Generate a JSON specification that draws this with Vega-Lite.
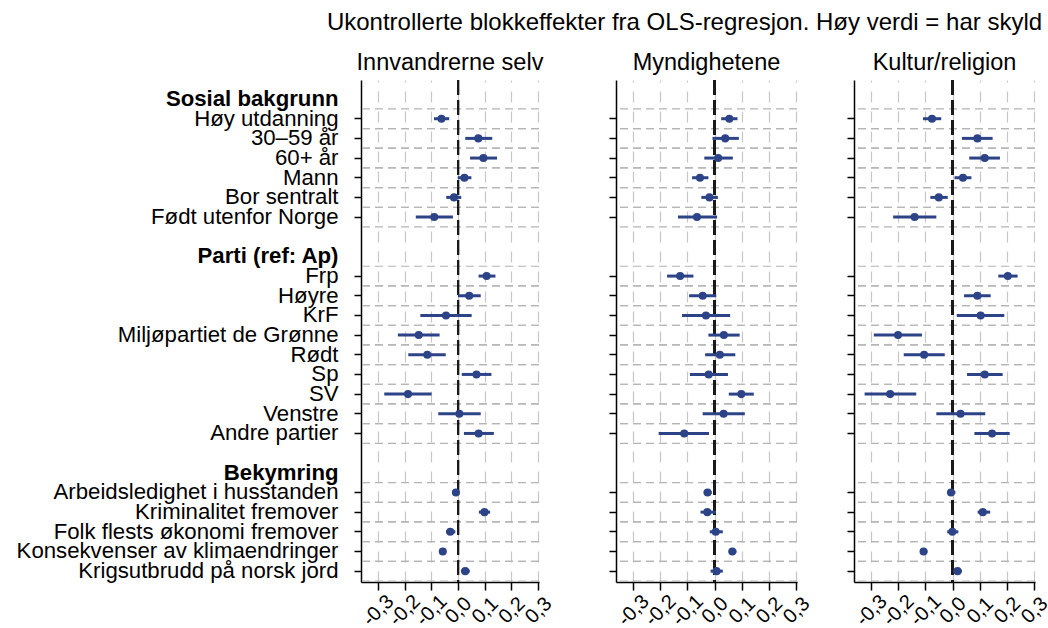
{
  "$schema": "https://vega.github.io/schema/vega-lite/v6.json",
  "padding": {"left": 16, "top": 10, "right": 5, "bottom": 5},
  "background": "white",
  "title": {"text": "Ukontrollerte blokkeffekter fra OLS-regresjon. Høy verdi = har skyld", "anchor": "end", "dx": -9, "fontSize": 24, "fontWeight": "normal", "font": "Liberation Sans", "color": "#000", "offset": 16},
  "config": {
    "view": {"stroke": null},
    "font": "Liberation Sans",
    "title": {"font": "Liberation Sans", "fontWeight": "normal", "color": "#000"}
  },
  "data": {"values": [
    {"panel": "I", "label": "Høy utdanning", "est": -0.062, "lo": -0.090, "hi": -0.033},
    {"panel": "I", "label": "30–59 år", "est": 0.076, "lo": 0.027, "hi": 0.128},
    {"panel": "I", "label": "60+ år", "est": 0.095, "lo": 0.045, "hi": 0.146},
    {"panel": "I", "label": "Mann", "est": 0.024, "lo": -0.001, "hi": 0.050},
    {"panel": "I", "label": "Bor sentralt", "est": -0.015, "lo": -0.044, "hi": 0.012},
    {"panel": "I", "label": "Født utenfor Norge", "est": -0.089, "lo": -0.158, "hi": -0.019},
    {"panel": "I", "label": "Frp", "est": 0.107, "lo": 0.077, "hi": 0.140},
    {"panel": "I", "label": "Høyre", "est": 0.042, "lo": 0.000, "hi": 0.085},
    {"panel": "I", "label": "KrF", "est": -0.045, "lo": -0.141, "hi": 0.051},
    {"panel": "I", "label": "Miljøpartiet de Grønne", "est": -0.147, "lo": -0.225, "hi": -0.069},
    {"panel": "I", "label": "Rødt", "est": -0.115, "lo": -0.186, "hi": -0.046},
    {"panel": "I", "label": "Sp", "est": 0.069, "lo": 0.014, "hi": 0.125},
    {"panel": "I", "label": "SV", "est": -0.187, "lo": -0.276, "hi": -0.099},
    {"panel": "I", "label": "Venstre", "est": 0.005, "lo": -0.074, "hi": 0.085},
    {"panel": "I", "label": "Andre partier", "est": 0.077, "lo": 0.022, "hi": 0.134},
    {"panel": "I", "label": "Arbeidsledighet i husstanden", "est": -0.008, "lo": -0.020, "hi": 0.004},
    {"panel": "I", "label": "Kriminalitet fremover", "est": 0.099, "lo": 0.078, "hi": 0.120},
    {"panel": "I", "label": "Folk flests økonomi fremover", "est": -0.029, "lo": -0.045, "hi": -0.010},
    {"panel": "I", "label": "Konsekvenser av klimaendringer", "est": -0.057, "lo": -0.068, "hi": -0.046},
    {"panel": "I", "label": "Krigsutbrudd på norsk jord", "est": 0.027, "lo": 0.011, "hi": 0.044},
    {"panel": "M", "label": "Høy utdanning", "est": 0.054, "lo": 0.024, "hi": 0.084},
    {"panel": "M", "label": "30–59 år", "est": 0.039, "lo": -0.008, "hi": 0.089},
    {"panel": "M", "label": "60+ år", "est": 0.013, "lo": -0.038, "hi": 0.067},
    {"panel": "M", "label": "Mann", "est": -0.054, "lo": -0.083, "hi": -0.023},
    {"panel": "M", "label": "Bor sentralt", "est": -0.019, "lo": -0.049, "hi": 0.012},
    {"panel": "M", "label": "Født utenfor Norge", "est": -0.065, "lo": -0.135, "hi": 0.009},
    {"panel": "M", "label": "Frp", "est": -0.127, "lo": -0.175, "hi": -0.078},
    {"panel": "M", "label": "Høyre", "est": -0.044, "lo": -0.094, "hi": 0.006},
    {"panel": "M", "label": "KrF", "est": -0.032, "lo": -0.120, "hi": 0.057},
    {"panel": "M", "label": "Miljøpartiet de Grønne", "est": 0.034, "lo": -0.023, "hi": 0.092},
    {"panel": "M", "label": "Rødt", "est": 0.019, "lo": -0.035, "hi": 0.076},
    {"panel": "M", "label": "Sp", "est": -0.022, "lo": -0.091, "hi": 0.049},
    {"panel": "M", "label": "SV", "est": 0.098, "lo": 0.052, "hi": 0.144},
    {"panel": "M", "label": "Venstre", "est": 0.033, "lo": -0.044, "hi": 0.111},
    {"panel": "M", "label": "Andre partier", "est": -0.112, "lo": -0.206, "hi": -0.021},
    {"panel": "M", "label": "Arbeidsledighet i husstanden", "est": -0.026, "lo": -0.040, "hi": -0.011},
    {"panel": "M", "label": "Kriminalitet fremover", "est": -0.027, "lo": -0.052, "hi": 0.005},
    {"panel": "M", "label": "Folk flests økonomi fremover", "est": 0.004, "lo": -0.018, "hi": 0.030},
    {"panel": "M", "label": "Konsekvenser av klimaendringer", "est": 0.065, "lo": 0.052, "hi": 0.080},
    {"panel": "M", "label": "Krigsutbrudd på norsk jord", "est": 0.007, "lo": -0.015, "hi": 0.030},
    {"panel": "K", "label": "Høy utdanning", "est": -0.076, "lo": -0.109, "hi": -0.042},
    {"panel": "K", "label": "30–59 år", "est": 0.091, "lo": 0.034, "hi": 0.147},
    {"panel": "K", "label": "60+ år", "est": 0.118, "lo": 0.061, "hi": 0.174},
    {"panel": "K", "label": "Mann", "est": 0.038, "lo": 0.007, "hi": 0.069},
    {"panel": "K", "label": "Bor sentralt", "est": -0.051, "lo": -0.082, "hi": -0.018},
    {"panel": "K", "label": "Født utenfor Norge", "est": -0.140, "lo": -0.219, "hi": -0.060},
    {"panel": "K", "label": "Frp", "est": 0.203, "lo": 0.168, "hi": 0.239},
    {"panel": "K", "label": "Høyre", "est": 0.091, "lo": 0.042, "hi": 0.140},
    {"panel": "K", "label": "KrF", "est": 0.103, "lo": 0.015, "hi": 0.190},
    {"panel": "K", "label": "Miljøpartiet de Grønne", "est": -0.201, "lo": -0.290, "hi": -0.113},
    {"panel": "K", "label": "Rødt", "est": -0.105, "lo": -0.180, "hi": -0.029},
    {"panel": "K", "label": "Sp", "est": 0.118, "lo": 0.053, "hi": 0.184},
    {"panel": "K", "label": "SV", "est": -0.230, "lo": -0.324, "hi": -0.134},
    {"panel": "K", "label": "Venstre", "est": 0.029, "lo": -0.060, "hi": 0.120},
    {"panel": "K", "label": "Andre partier", "est": 0.145, "lo": 0.080, "hi": 0.210},
    {"panel": "K", "label": "Arbeidsledighet i husstanden", "est": -0.006, "lo": -0.020, "hi": 0.010},
    {"panel": "K", "label": "Kriminalitet fremover", "est": 0.111, "lo": 0.092, "hi": 0.138},
    {"panel": "K", "label": "Folk flests økonomi fremover", "est": -0.001, "lo": -0.020, "hi": 0.021},
    {"panel": "K", "label": "Konsekvenser av klimaendringer", "est": -0.107, "lo": -0.120, "hi": -0.093},
    {"panel": "K", "label": "Krigsutbrudd på norsk jord", "est": 0.018, "lo": 0.002, "hi": 0.034}
  ]},
  "bounds": "flush",
  "spacing": 77,
  "hconcat": [
    {
      "width": 178, "height": 502,
      "title": {"text": "Innvandrerne selv", "fontSize": 23.5, "offset": 5},
      "transform": [{"filter": "datum.panel === 'I'"}],
      "layer": [
        {"mark": {"type": "rule", "color": "#b4b4b4", "strokeDash": [8, 5], "strokeWidth": 1.2},
         "encoding": {"y": {"field": "label", "type": "nominal", "bandPosition": 0, "scale": {"domain": ["Sosial bakgrunn", "Høy utdanning", "30–59 år", "60+ år", "Mann", "Bor sentralt", "Født utenfor Norge", " ", "Parti (ref: Ap)", "Frp", "Høyre", "KrF", "Miljøpartiet de Grønne", "Rødt", "Sp", "SV", "Venstre", "Andre partier", "  ", "Bekymring", "Arbeidsledighet i husstanden", "Kriminalitet fremover", "Folk flests økonomi fremover", "Konsekvenser av klimaendringer", "Krigsutbrudd på norsk jord"], "paddingInner": 0, "paddingOuter": 0.26, "align": 0.9},
           "axis": {"labels": true, "title": null, "grid": false, "labelFont": "Liberation Sans", "labelColor": "#000", "labelFontSize": 22.2, "labelPadding": 16, "labelLimit": 500, "labelOverlap": false,
             "domainColor": "#000", "domainWidth": 1.5, "tickColor": "#000", "tickWidth": 1.5, "tickSize": 7,
             "labelFontWeight": {"condition": {"test": "datum.value === 'Sosial bakgrunn' || datum.value === 'Parti (ref: Ap)' || datum.value === 'Bekymring'", "value": "bold"}, "value": "normal"},
             "tickOpacity": {"condition": {"test": "datum.value === 'Sosial bakgrunn' || datum.value === 'Parti (ref: Ap)' || datum.value === 'Bekymring' || trim(datum.value) === ''", "value": 0}, "value": 1}}}}},
        {"mark": {"type": "rule", "color": "#b4b4b4", "strokeDash": [8, 5], "strokeWidth": 1.2},
         "encoding": {"y": {"field": "label", "type": "nominal", "bandPosition": 1}}},
        {"mark": {"type": "rule", "color": "#1a1a1a", "strokeDash": [15, 5], "strokeWidth": 2},
         "encoding": {"x": {"datum": 0, "type": "quantitative"}}},
        {"mark": {"type": "rule", "color": "#2c4388", "strokeWidth": 3},
         "encoding": {"x": {"field": "lo", "type": "quantitative", "scale": {"domain": [-0.363, 0.303], "nice": false, "zero": false},
             "axis": {"values": [-0.3, -0.2, -0.1, 0, 0.1, 0.2, 0.3], "tickCount": 20, "labelExpr": "replace(replace(format(datum.value, '.1f'), '.', ','), '−', '-')",
               "title": null, "grid": true, "gridColor": "#c6c6c6", "gridDash": [11, 9], "gridWidth": 1.2, "tickSize": 8, "tickColor": "#000", "tickWidth": 1.5, "domainColor": "#000", "domainWidth": 1.5,
               "labelFont": "Liberation Sans", "labelColor": "#000", "labelFontSize": 20, "labelAngle": -45, "labelAlign": "center", "labelBaseline": "middle", "labelPadding": 20, "labelOverlap": false, "labelFlush": false, "labelBound": false}},
           "x2": {"field": "hi"},
           "y": {"field": "label", "type": "nominal"}}},
        {"mark": {"type": "circle", "color": "#2c4388", "size": 65, "opacity": 1},
         "encoding": {"x": {"field": "est", "type": "quantitative"},
           "y": {"field": "label", "type": "nominal"}}}
      ]
    },
    {
      "bounds": "flush",
      "spacing": 57,
      "hconcat": [
        {
          "width": 181, "height": 502,
          "title": {"text": "Myndighetene", "fontSize": 23.5, "offset": 5},
          "transform": [{"filter": "datum.panel === 'M'"}],
          "layer": [
            {"mark": {"type": "rule", "color": "#b4b4b4", "strokeDash": [8, 5], "strokeWidth": 1.2},
             "encoding": {"y": {"field": "label", "type": "nominal", "bandPosition": 0, "scale": {"domain": ["Sosial bakgrunn", "Høy utdanning", "30–59 år", "60+ år", "Mann", "Bor sentralt", "Født utenfor Norge", " ", "Parti (ref: Ap)", "Frp", "Høyre", "KrF", "Miljøpartiet de Grønne", "Rødt", "Sp", "SV", "Venstre", "Andre partier", "  ", "Bekymring", "Arbeidsledighet i husstanden", "Kriminalitet fremover", "Folk flests økonomi fremover", "Konsekvenser av klimaendringer", "Krigsutbrudd på norsk jord"], "paddingInner": 0, "paddingOuter": 0.26, "align": 0.9},
               "axis": {"labels": false, "title": null, "grid": false, "domainColor": "#000", "domainWidth": 1.5, "tickColor": "#000", "tickWidth": 1.5, "tickSize": 7,
                 "tickOpacity": {"condition": {"test": "datum.value === 'Sosial bakgrunn' || datum.value === 'Parti (ref: Ap)' || datum.value === 'Bekymring' || trim(datum.value) === ''", "value": 0}, "value": 1}}}}},
            {"mark": {"type": "rule", "color": "#b4b4b4", "strokeDash": [8, 5], "strokeWidth": 1.2},
             "encoding": {"y": {"field": "label", "type": "nominal", "bandPosition": 1}}},
            {"mark": {"type": "rule", "color": "#1a1a1a", "strokeDash": [15, 5], "strokeWidth": 2},
             "encoding": {"x": {"datum": 0, "type": "quantitative"}}},
            {"mark": {"type": "rule", "color": "#2c4388", "strokeWidth": 3},
             "encoding": {"x": {"field": "lo", "type": "quantitative", "scale": {"domain": [-0.363, 0.303], "nice": false, "zero": false},
                 "axis": {"values": [-0.3, -0.2, -0.1, 0, 0.1, 0.2, 0.3], "tickCount": 20, "labelExpr": "replace(replace(format(datum.value, '.1f'), '.', ','), '−', '-')",
                   "title": null, "grid": true, "gridColor": "#c6c6c6", "gridDash": [11, 9], "gridWidth": 1.2, "tickSize": 8, "tickColor": "#000", "tickWidth": 1.5, "domainColor": "#000", "domainWidth": 1.5,
                   "labelFont": "Liberation Sans", "labelColor": "#000", "labelFontSize": 20, "labelAngle": -45, "labelAlign": "center", "labelBaseline": "middle", "labelPadding": 20, "labelOverlap": false, "labelFlush": false, "labelBound": false}},
               "x2": {"field": "hi"},
               "y": {"field": "label", "type": "nominal"}}},
            {"mark": {"type": "circle", "color": "#2c4388", "size": 65, "opacity": 1},
             "encoding": {"x": {"field": "est", "type": "quantitative"},
               "y": {"field": "label", "type": "nominal"}}}
          ]
        },
        {
          "width": 181, "height": 502,
          "title": {"text": "Kultur/religion", "fontSize": 23.5, "offset": 5},
          "transform": [{"filter": "datum.panel === 'K'"}],
          "layer": [
            {"mark": {"type": "rule", "color": "#b4b4b4", "strokeDash": [8, 5], "strokeWidth": 1.2},
             "encoding": {"y": {"field": "label", "type": "nominal", "bandPosition": 0, "scale": {"domain": ["Sosial bakgrunn", "Høy utdanning", "30–59 år", "60+ år", "Mann", "Bor sentralt", "Født utenfor Norge", " ", "Parti (ref: Ap)", "Frp", "Høyre", "KrF", "Miljøpartiet de Grønne", "Rødt", "Sp", "SV", "Venstre", "Andre partier", "  ", "Bekymring", "Arbeidsledighet i husstanden", "Kriminalitet fremover", "Folk flests økonomi fremover", "Konsekvenser av klimaendringer", "Krigsutbrudd på norsk jord"], "paddingInner": 0, "paddingOuter": 0.26, "align": 0.9},
               "axis": {"labels": false, "title": null, "grid": false, "domainColor": "#000", "domainWidth": 1.5, "tickColor": "#000", "tickWidth": 1.5, "tickSize": 7,
                 "tickOpacity": {"condition": {"test": "datum.value === 'Sosial bakgrunn' || datum.value === 'Parti (ref: Ap)' || datum.value === 'Bekymring' || trim(datum.value) === ''", "value": 0}, "value": 1}}}}},
            {"mark": {"type": "rule", "color": "#b4b4b4", "strokeDash": [8, 5], "strokeWidth": 1.2},
             "encoding": {"y": {"field": "label", "type": "nominal", "bandPosition": 1}}},
            {"mark": {"type": "rule", "color": "#1a1a1a", "strokeDash": [15, 5], "strokeWidth": 2},
             "encoding": {"x": {"datum": 0, "type": "quantitative"}}},
            {"mark": {"type": "rule", "color": "#2c4388", "strokeWidth": 3},
             "encoding": {"x": {"field": "lo", "type": "quantitative", "scale": {"domain": [-0.363, 0.303], "nice": false, "zero": false},
                 "axis": {"values": [-0.3, -0.2, -0.1, 0, 0.1, 0.2, 0.3], "tickCount": 20, "labelExpr": "replace(replace(format(datum.value, '.1f'), '.', ','), '−', '-')",
                   "title": null, "grid": true, "gridColor": "#c6c6c6", "gridDash": [11, 9], "gridWidth": 1.2, "tickSize": 8, "tickColor": "#000", "tickWidth": 1.5, "domainColor": "#000", "domainWidth": 1.5,
                   "labelFont": "Liberation Sans", "labelColor": "#000", "labelFontSize": 20, "labelAngle": -45, "labelAlign": "center", "labelBaseline": "middle", "labelPadding": 20, "labelOverlap": false, "labelFlush": false, "labelBound": false}},
               "x2": {"field": "hi"},
               "y": {"field": "label", "type": "nominal"}}},
            {"mark": {"type": "circle", "color": "#2c4388", "size": 65, "opacity": 1},
             "encoding": {"x": {"field": "est", "type": "quantitative"},
               "y": {"field": "label", "type": "nominal"}}}
          ]
        }
      ]
    }
  ]
}
